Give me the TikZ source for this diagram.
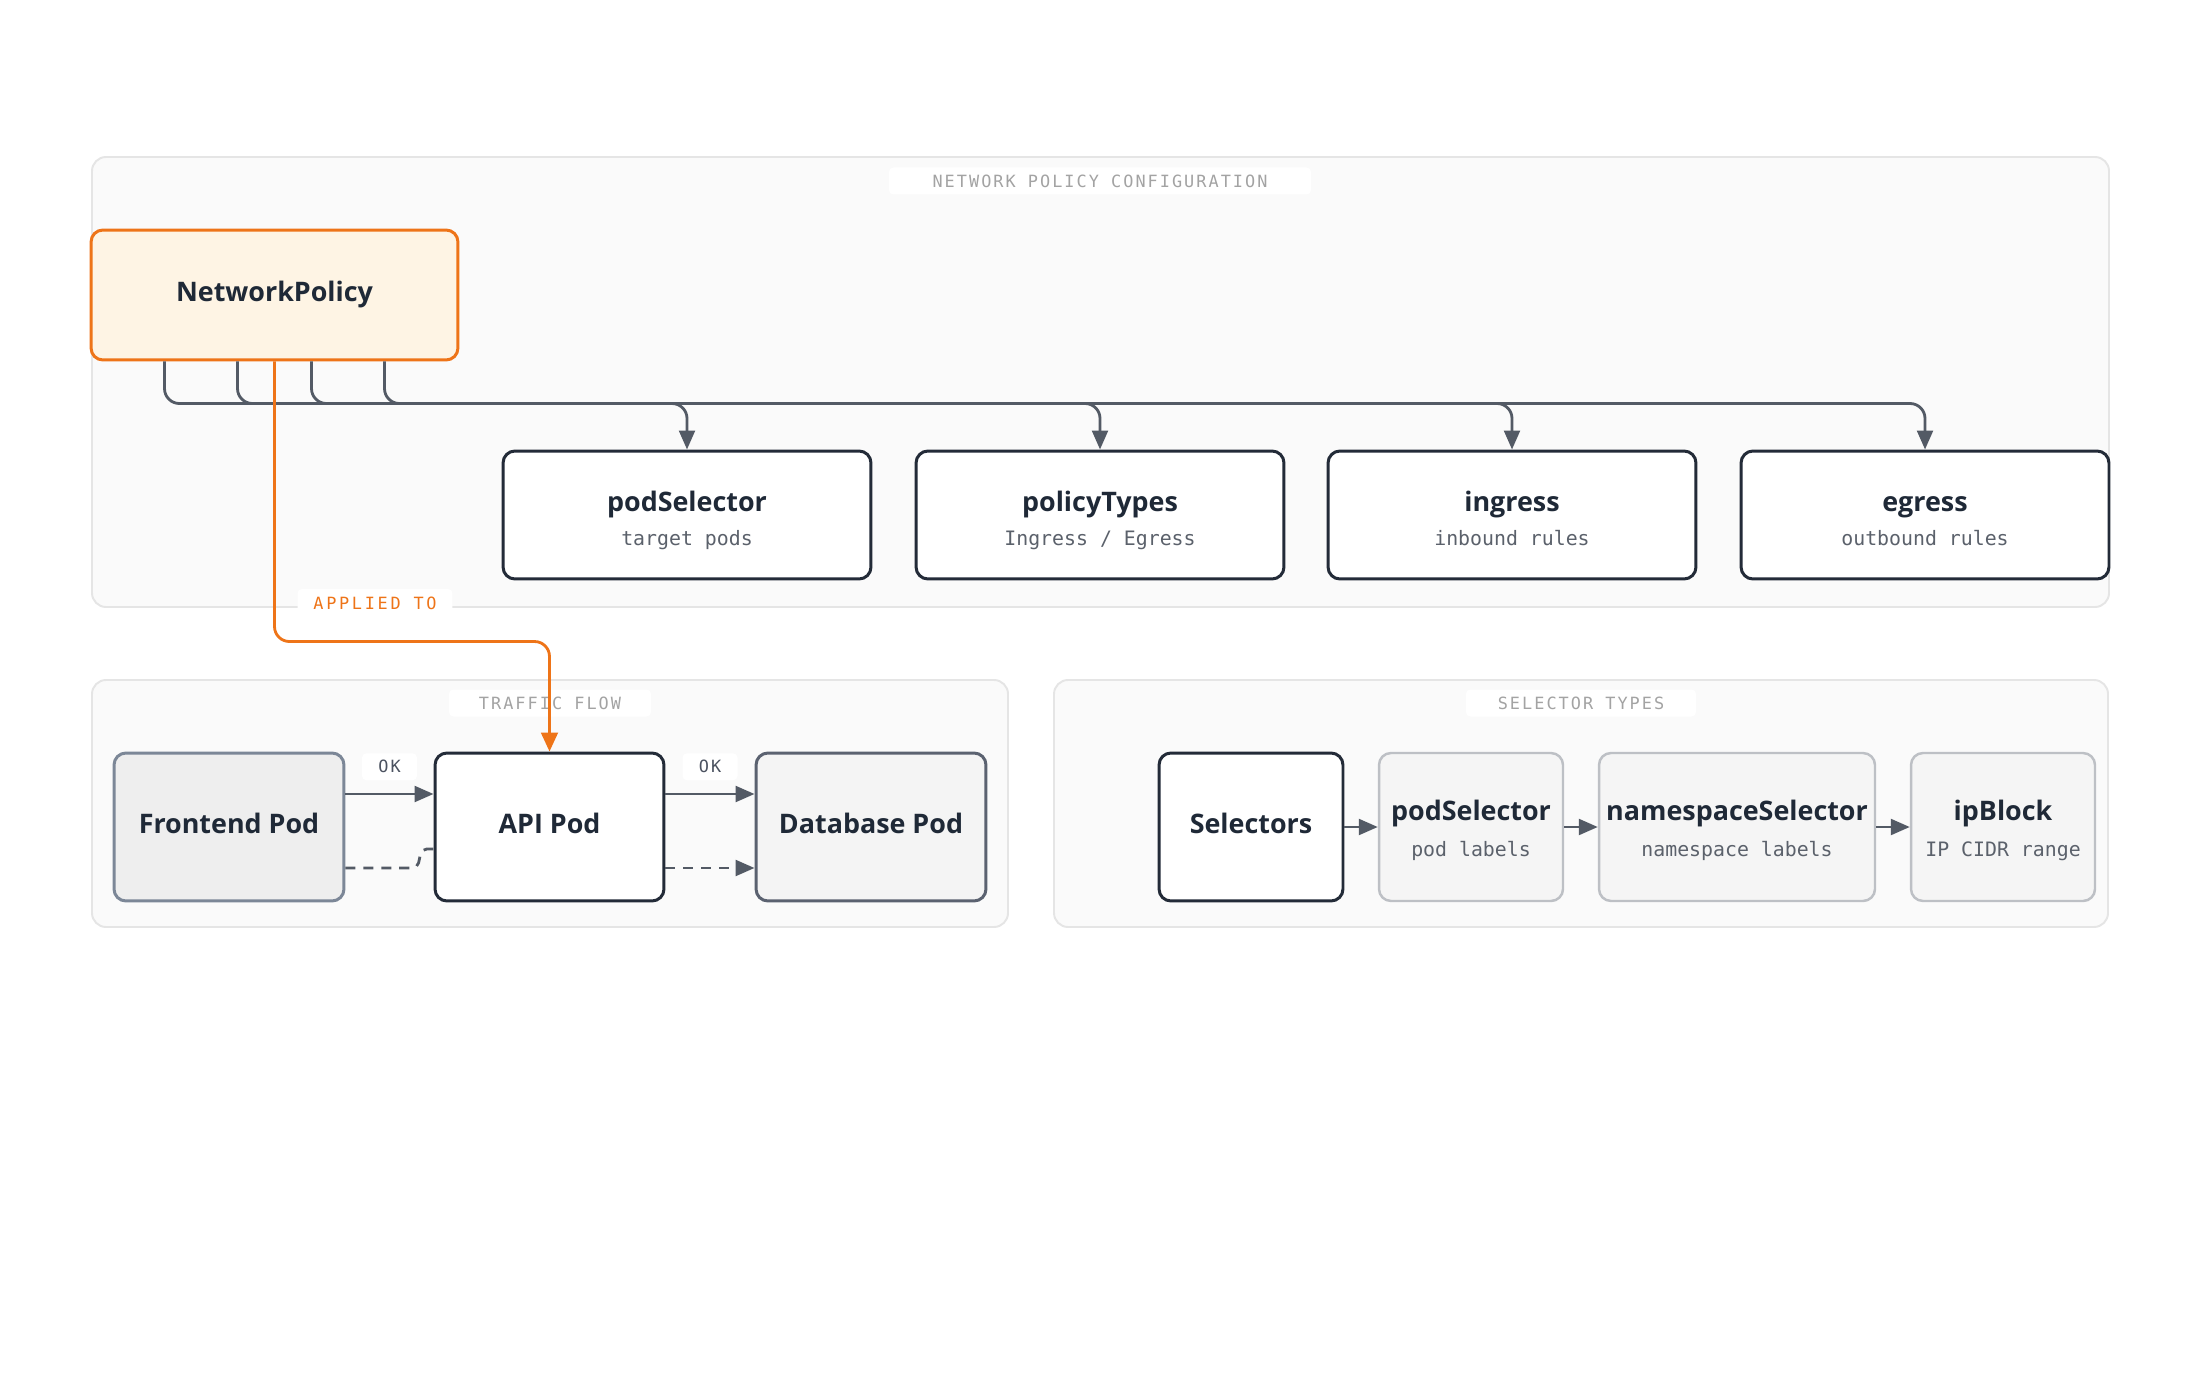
\documentclass[tikz,border=0pt]{standalone}
\usepackage{fontspec}
\IfFontExistsTF{Noto Sans Bold}
	{\setmainfont{Noto Sans}[BoldFont={Noto Sans Bold}]}
	{\setmainfont{Open Sans}[BoldFont={Open Sans Bold}]}
\setmonofont{DejaVu Sans Mono}
\newfontfamily\spacedmono[LetterSpace=12]{DejaVu Sans Mono}
\newfontfamily\widemono[LetterSpace=16]{DejaVu Sans Mono}
\usetikzlibrary{arrows.meta,calc}

\definecolor{panelfill}{HTML}{FAFAFA}
\definecolor{panelline}{HTML}{E5E5E5}
\definecolor{labelgray}{HTML}{A3A3A3}
\definecolor{ink}{HTML}{1F2937}
\definecolor{subink}{HTML}{5B616B}
\definecolor{boxline}{HTML}{232B38}
\definecolor{edgegray}{HTML}{535A65}
\definecolor{policyorange}{HTML}{EE7418}
\definecolor{policyfill}{HTML}{FEF4E4}
\definecolor{frontfill}{HTML}{EEEEEE}
\definecolor{frontline}{HTML}{7C8797}
\definecolor{dbfill}{HTML}{F4F4F4}
\definecolor{dbline}{HTML}{5B6270}
\definecolor{selfill}{HTML}{F5F5F5}
\definecolor{selline}{HTML}{BDC0C5}
\definecolor{okink}{HTML}{4B5260}

\newcommand\titletext{\fontsize{15.3}{18}\selectfont\bfseries\color{ink}}
\newcommand\subtext{\ttfamily\fontsize{11.3}{13}\selectfont\color{subink}}
\newcommand\twoline[3][18.4pt]{\rule{0pt}{#1}{\titletext #2}\\{\subtext #3}\rule[-2.8pt]{0pt}{1pt}}

\tikzset{
	panel/.style={draw=panelline, line width=1.1pt, fill=panelfill, rounded corners=8pt},
	panellabel/.style={fill=white, rounded corners=2.5pt, minimum height=0.54cm, inner sep=0pt,
		text=labelgray, font=\spacedmono\fontsize{9.6}{11}\selectfont},
	basebox/.style={draw=boxline, fill=white, line width=1.7pt, rounded corners=6.8pt,
		inner sep=0pt, align=center},
	cfgbox/.style={basebox, minimum width=7.36cm, minimum height=2.56cm,
		font=\fontsize{15.3}{19.3}\selectfont},
	policybox/.style={basebox, draw=policyorange, fill=policyfill, minimum width=7.34cm,
		minimum height=2.6cm, font=\titletext},
	podbox/.style={basebox, minimum width=4.6cm, minimum height=2.96cm, font=\titletext,
		text depth=4.5pt},
	selbox/.style={basebox, draw=selline, fill=selfill, line width=1.4pt,
		minimum width=3.68cm, minimum height=2.96cm, font=\fontsize{15.3}{20.4}\selectfont},
	oklabel/.style={fill=white, rounded corners=2.5pt, minimum width=1.1cm, minimum height=0.54cm,
		inner sep=0pt, text=okink, font=\spacedmono\fontsize{9.6}{11}\selectfont},
	flow/.style={draw=edgegray, line width=1.6pt, -{Triangle[length=10.8pt,width=9pt]}},
	flowdash/.style={flow, dash pattern=on 5.7pt off 4.5pt},
	bus/.style={flow, rounded corners=8.5pt},
	applied/.style={draw=policyorange, line width=1.6pt, rounded corners=8.5pt,
		-{Triangle[length=10.8pt,width=9.5pt]}},
}

\begin{document}
\begin{tikzpicture}[x=0.02cm, y=-0.02cm]
			%%%%% PANELS %%%%%
			\useasboundingbox (0,0) rectangle (2200,1378);
			\fill[white] (0,0) rectangle (2200,1378);
			
			\draw[panel] (92,157) rectangle (2109,607);
			\draw[panel] (92,680) rectangle (1008,927);
			\draw[panel] (1054,680) rectangle (2108,927);
			
			\node[panellabel, minimum width=8.44cm] (cfglabel) at (1100,181) {NETWORK POLICY CONFIGURATION};
			\node[panellabel, minimum width=4.04cm] (flowlabel) at (550,703) {TRAFFIC FLOW};
			\node[panellabel, minimum width=4.6cm] (sellabel) at (1581,703) {SELECTOR TYPES};
			
			%%%%% CONFIGURATION %%%%%
			\node[policybox] (np) at (274.5,295) {NetworkPolicy};
			
			\node[cfgbox] (ps) at (687,515) {\twoline{podSelector}{target pods}};
			\node[cfgbox] (pt) at (1100,515) {\twoline{policyTypes}{Ingress / Egress}};
			\node[cfgbox] (ig) at (1512,515) {\twoline{ingress}{inbound rules}};
			\node[cfgbox] (eg) at (1925,515) {\twoline{egress}{outbound rules}};
			
			\draw[bus] ($(np.south)+(-110,0)$) |- ($(ps.north)+(0,-46)$) -- (ps.north);
			\draw[bus] ($(np.south)+(-37,0)$) |- ($(pt.north)+(0,-46)$) -- (pt.north);
			\draw[bus] ($(np.south)+(37,0)$) |- ($(ig.north)+(0,-46)$) -- (ig.north);
			\draw[bus] ($(np.south)+(110,0)$) |- ($(eg.north)+(0,-46)$) -- (eg.north);
			
			%%%%% TRAFFIC FLOW %%%%%
			\node[podbox, draw=frontline, fill=frontfill] (fe) at (229,827) {Frontend Pod};
			\node[podbox, minimum width=4.58cm] (api) at (549.5,827) {API Pod};
			\node[podbox, draw=dbline, fill=dbfill] (db) at (871,827) {Database Pod};
			
			\draw[flow] ($(fe.east)+(0,-33)$) -- node[oklabel, above=7pt] (ok1) {OK} ($(api.west)+(0,-33)$);
			\draw[flow] ($(api.east)+(0,-33)$) -- node[oklabel, above=7pt] (ok2) {OK} ($(db.west)+(0,-33)$);
			\draw[flowdash, -, rounded corners=3pt] ($(fe.east)+(0,41)$) -- ($(api.west)+(-16,41)$)
				-- ($(api.west)+(-12,22)$) -- ($(api.west)+(0,22)$);
			\draw[flowdash] ($(api.east)+(0,41)$) -- ($(db.west)+(0,41)$);
			
			%%%%% SELECTOR TYPES %%%%%
			\node[podbox, minimum width=3.68cm] (sel) at (1251,827) {Selectors};
			\node[selbox] (psel) at (1471,827) {\twoline[16.2pt]{podSelector}{pod labels}};
			\node[selbox, minimum width=5.52cm] (nss) at (1737,827) {\twoline[16.2pt]{namespaceSelector}{namespace labels}};
			\node[selbox] (ipb) at (2003,827) {\twoline[16.2pt]{ipBlock}{IP CIDR range}};
			
			\draw[flow] (sel) -- (psel);
			\draw[flow] (psel) -- (nss);
			\draw[flow] (nss) -- (ipb);
			
			%%%%% APPLIED TO %%%%%
			\draw[applied] (np.south) |- ($(api.north)+(0,-110)$) -- (api.north);
			\node[fill=white, rounded corners=2.5pt, minimum width=3.1cm, minimum height=0.56cm, inner sep=0pt,
				text=policyorange, font=\widemono\fontsize{9.6}{11}\selectfont] (appl) at (375,603) {APPLIED TO};
			
		\end{tikzpicture}
\end{document}
